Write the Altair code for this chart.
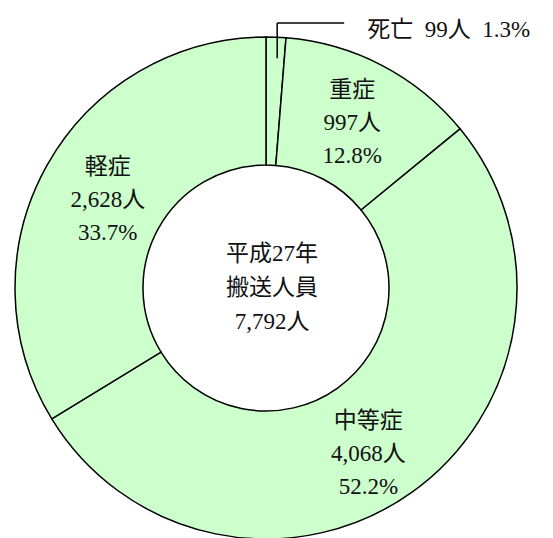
import altair as alt
import pandas as pd
import math

# ---- data ----
categories = ["死亡", "重症", "中等症", "軽症"]
counts = [99, 997, 4068, 2628]
count_labels = ["99人", "997人", "4,068人", "2,628人"]
percents = ["1.3%", "12.8%", "52.2%", "33.7%"]
center_lines = ["平成27年", "搬送人員", "7,792人"]

total = sum(counts)
SP = "\u00a0\u00a0"

df = pd.DataFrame({
    "category": categories,
    "count": counts,
    "order": list(range(len(categories))),
    "label": [f"{c}\n{n}\n{p}" for c, n, p in zip(categories, count_labels, percents)],
    "inline": [f"{c}{SP}{n}{SP}{p}" for c, n, p in zip(categories, count_labels, percents)],
})

# ---- geometry ----
CX, CY = 258, 280
R_OUT, R_IN = 251, 123
FONT = "Liberation Serif, Noto Sans CJK JP, serif"
FS = 23
LH = 33
FILL = "#CCFFCC"
TXT = "#111111"

base = alt.Chart(df)

ring = base.mark_arc(
    outerRadius=R_OUT, innerRadius=R_IN, fill=FILL, stroke="black", strokeWidth=1.5
).encode(
    theta=alt.Theta("count:Q", stack=True),
    order=alt.Order("order:Q"),
    x=alt.value(CX),
    y=alt.value(CY),
)

stacked = base.transform_stack(
    stack="count", groupby=[], as_=["s0", "s1"], sort=[alt.SortField("order")]
).transform_calculate(mid="(datum.s0 + datum.s1) / 2")

theta_mid = alt.Theta("mid:Q", scale=alt.Scale(domain=[0, total], range=[0, 2 * math.pi]))


def slice_label(cat, radius, dx=0, dy=0):
    return stacked.transform_filter(alt.datum.category == cat).mark_text(
        font=FONT, fontSize=FS, lineBreak="\n", lineHeight=LH,
        align="center", baseline="middle", color=TXT, dx=dx, dy=dy - LH,
    ).encode(
        theta=theta_mid,
        text="label:N",
        x=alt.value(CX),
        y=alt.value(CY),
        radius=alt.value(radius),
    )


lab_heavy = slice_label("重症", 186)
lab_mid = slice_label("中等症", 194, dx=-10, dy=8)
lab_light = slice_label("軽症", 186, dx=4, dy=3)

# leader line for the small slice, derived from its angle
mid = 2 * math.pi * (counts[0] / 2) / total
lx = CX + 230 * math.sin(mid) + 2
ly0 = CY - 230 * math.cos(mid)
ly1 = CY - R_OUT - 14
lx1 = lx + 67

lead_df = pd.DataFrame({"a": [0]})
lead_v = alt.Chart(lead_df).mark_rule(color="black", strokeWidth=1.5).encode(
    x=alt.value(lx), y=alt.value(ly0), y2=alt.value(ly1)
)
lead_h = alt.Chart(lead_df).mark_rule(color="black", strokeWidth=1.5).encode(
    x=alt.value(lx), x2=alt.value(lx1), y=alt.value(ly1)
)

death_text = base.transform_filter(
    alt.datum.category == "死亡"
).mark_text(
    font=FONT, fontSize=FS, align="left", baseline="middle", color=TXT
).encode(
    text="inline:N",
    x=alt.value(lx1 + 23),
    y=alt.value(ly1 + 7),
)

center_df = pd.DataFrame({"t": ["\n".join(center_lines)]})
center_text = alt.Chart(center_df).mark_text(
    font=FONT, fontSize=FS, lineBreak="\n", lineHeight=34,
    align="center", baseline="middle", color=TXT, dy=-34,
).encode(
    text="t:N",
    x=alt.value(CX + 6),
    y=alt.value(CY),
)

chart = alt.layer(
    ring, lab_heavy, lab_mid, lab_light, lead_v, lead_h, death_text, center_text
).resolve_scale(theta="independent").properties(
    width=537, height=530, padding=0
).configure_view(stroke="transparent")

chart.save("out.html", embed_options={"renderer": "svg", "actions": False})
